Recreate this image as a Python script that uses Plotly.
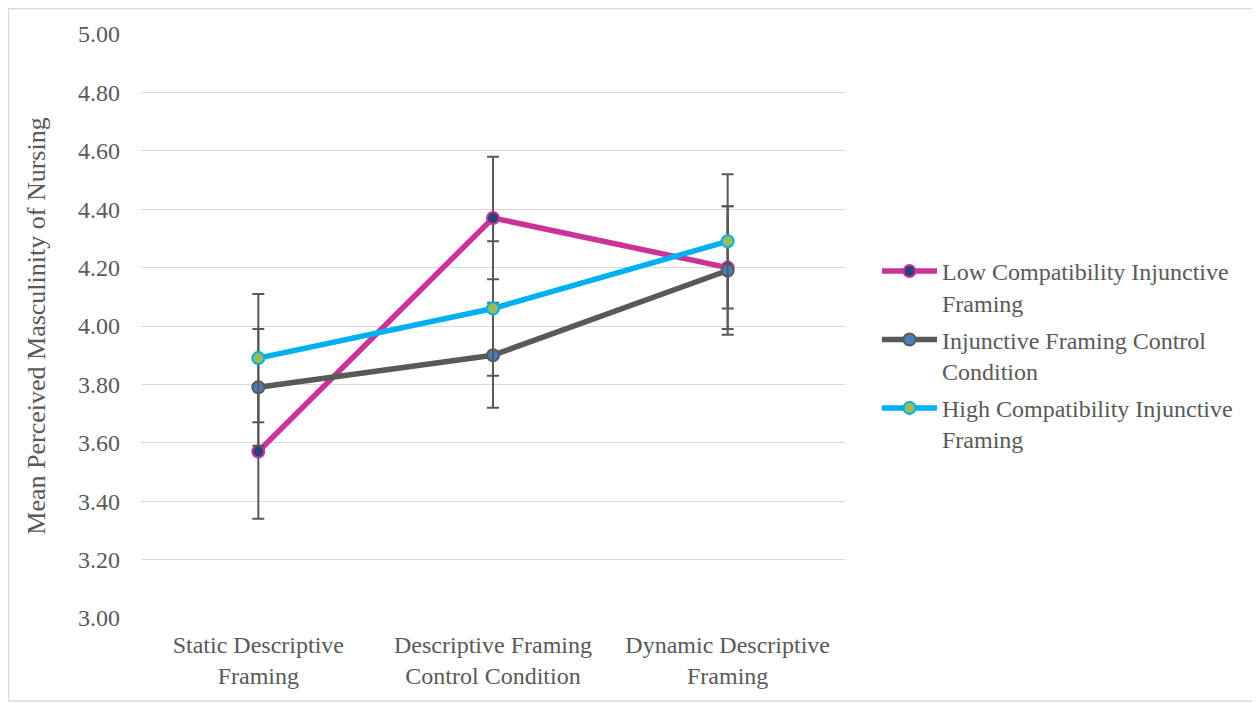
import plotly.graph_objects as go

categories = ["Static Descriptive<br>Framing", "Descriptive Framing<br>Control Condition", "Dynamic Descriptive<br>Framing"]
series_names = ["Low Compatibility Injunctive<br>Framing", "Injunctive Framing Control<br>Condition", "High Compatibility Injunctive<br>Framing"]
low_vals = [3.57, 4.37, 4.20]
low_err = [0.23, 0.21, 0.21]
ctrl_vals = [3.79, 3.90, 4.19]
ctrl_err = [0.20, 0.18, 0.22]
high_vals = [3.89, 4.06, 4.29]
high_err = [0.22, 0.23, 0.23]
y_ticks = [3.0, 3.2, 3.4, 3.6, 3.8, 4.0, 4.2, 4.4, 4.6, 4.8, 5.0]

line_colors = ["#CC3399", "#595959", "#00B0F0"]
fill_colors = ["#264478", "#4A7EBB", "#9BBB59"]

fig = go.Figure()
for i, (name, vals, errs, lc, fc) in enumerate(zip(series_names, [low_vals, ctrl_vals, high_vals],
                                    [low_err, ctrl_err, high_err], line_colors, fill_colors)):
    fig.add_trace(go.Scatter(
        x=categories, y=vals, name=name, mode="lines+markers", legendgroup="g%d" % i,
        line=dict(color=lc, width=5.5),
        marker=dict(size=12, color=fc, line=dict(color=lc, width=2)),
        error_y=dict(type="data", array=errs, visible=True, color="#595959", thickness=2, width=6),
    ))

font_family = "Liberation Serif, Times New Roman, serif"
W, H = 1252, 695
L, R, T, B = 133, 415, 26, 85
pw, ph = W - L - R, H - T - B

fig.update_layout(
    width=W, height=H,
    margin=dict(l=L, r=R, t=T, b=B),
    paper_bgcolor="white", plot_bgcolor="white",
    font=dict(family=font_family, size=24, color="#595959"),
    showlegend=True,
    legend=dict(x=(877 - 8 - L) / pw, y=(ph - (249 - 8 - T)) / ph,
                yanchor="top", xanchor="left", valign="top",
                font=dict(size=24, color="#595959"), tracegroupgap=3,
                itemwidth=55, bgcolor="rgba(0,0,0,0)"),
    xaxis=dict(range=[-0.5, 2.5], showgrid=False, showline=False, zeroline=False,
               tickfont=dict(size=24, color="#595959"), ticklabelstandoff=10),
    yaxis=dict(range=[3.0, 5.0], tickvals=y_ticks, tickformat=".2f",
               showgrid=True, gridcolor="#D9D9D9", gridwidth=1.3, zeroline=False, showline=False,
               tickfont=dict(size=24, color="#595959"), ticklabelstandoff=20,
               title=dict(text="Mean Perceived Masculinity of Nursing", font=dict(size=26, color="#595959"), standoff=24)),
    shapes=[dict(type="rect", xref="paper", yref="paper",
                 x0=(0.5 - L) / pw, x1=(1249 - L) / pw,
                 y0=(T + ph - 693) / ph, y1=(T + ph - 0.5) / ph,
                 line=dict(color="#D9D9D9", width=1.3), layer="below")],
)

fig.write_html("out.html")
